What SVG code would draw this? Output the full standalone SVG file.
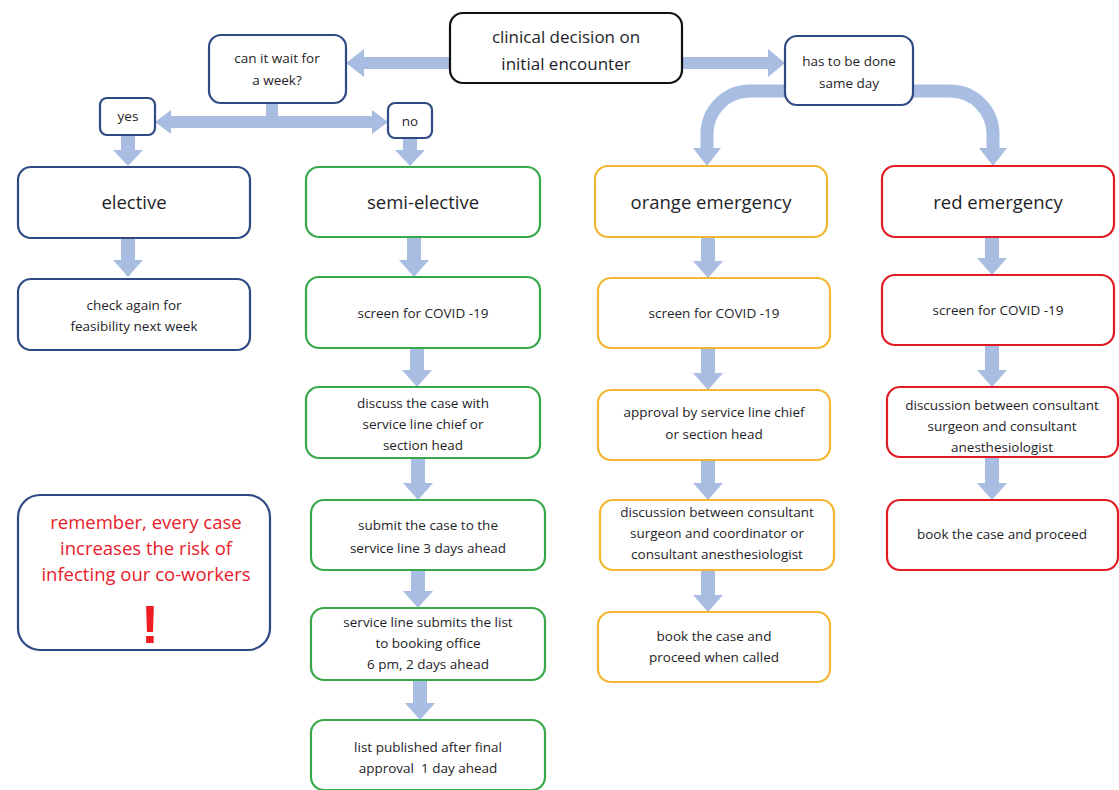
<svg xmlns="http://www.w3.org/2000/svg" width="1119" height="790" viewBox="0 0 1119 790">
<style>
.box{fill:#fff;stroke-width:2.2}
.navy{stroke:#2f4a84}
.green{stroke:#38a94a}
.orange{stroke:#f2b731}
.red{stroke:#e01b22}
.black{stroke:#111}
text{font-family:"Open Sans","Liberation Sans",sans-serif;fill:#1e1e28;text-anchor:middle}
.t{font-size:13.5px}
.b{font-size:18.5px}
.h{font-size:17px}
.s{font-size:13.5px}
.arr{fill:#a9bde2}
.carr{fill:none;stroke:#a9bde2;stroke-width:13}
.warn{fill:#e8202a;font-size:18.5px}
</style>
<rect width="1119" height="790" fill="#fff"/>
<g id="connectors">
  <polygon class="arr" points="450,57 364,57 364,49 346,63 364,77 364,69 450,69"/>
  <polygon class="arr" points="682,57 768,57 768,49 785,63 768,77 768,69 682,69"/>
  <rect class="arr" x="266" y="103" width="12" height="16"/>
  <polygon class="arr" points="155,122 171,110 171,116 372,116 372,110 388,122 372,134 372,128 171,128 171,134"/>
  <path class="carr" d="M785,91 H750 A43,43 0 0 0 707,134 V150"/>
  <polygon class="arr" points="693,148 721,148 707,166"/>
  <path class="carr" d="M913,91 H950 A43,43 0 0 1 993,134 V150"/>
  <polygon class="arr" points="979,148 1007,148 993,166"/>
  <polygon class="arr" points="121,136 135,136 135,150 143,150 128,166 113,150 121,150"/>
  <polygon class="arr" points="403,138 417,138 417,150 425,150 410,166 395,150 403,150"/>
  <polygon class="arr" points="121,238 135,238 135,260 143,260 128,277 113,260 121,260"/>
  <polygon class="arr" points="407,237 421,237 421,260 429,260 414,277 399,260 407,260"/>
  <polygon class="arr" points="410,348 424,348 424,370 432,370 417,387 402,370 410,370"/>
  <polygon class="arr" points="411,458 425,458 425,483 433,483 418,500 403,483 411,483"/>
  <polygon class="arr" points="411,570 425,570 425,591 433,591 418,608 403,591 411,591"/>
  <polygon class="arr" points="413,680 427,680 427,703 435,703 420,720 405,703 413,703"/>
  <polygon class="arr" points="701,237 715,237 715,261 723,261 708,278 693,261 701,261"/>
  <polygon class="arr" points="701,348 715,348 715,373 723,373 708,390 693,373 701,373"/>
  <polygon class="arr" points="701,460 715,460 715,483 723,483 708,500 693,483 701,483"/>
  <polygon class="arr" points="701,570 715,570 715,595 723,595 708,612 693,595 701,595"/>
  <polygon class="arr" points="985,237 999,237 999,258 1007,258 992,275 977,258 985,258"/>
  <polygon class="arr" points="985,345 999,345 999,370 1007,370 992,387 977,370 985,370"/>
  <polygon class="arr" points="985,457 999,457 999,483 1007,483 992,500 977,483 985,483"/>
</g>
<g id="clinical"><rect class="box black" x="450" y="13" width="232" height="70" rx="13"/><text class="h" x="566" y="43">clinical decision on</text><text class="h" x="566" y="70">initial encounter</text></g>
<g id="canwait"><rect class="box navy" x="209" y="35" width="137" height="68" rx="12"/><text class="s" x="277" y="63">can it wait for</text><text class="s" x="277" y="85">a week?</text></g>
<g id="hastobe"><rect class="box navy" x="785" y="36" width="128" height="69" rx="12"/><text class="s" x="849" y="66">has to be done</text><text class="s" x="849" y="88">same day</text></g>
<g id="yes"><rect class="box navy" x="100" y="98" width="55" height="37" rx="7"/><text class="s" x="128" y="121">yes</text></g>
<g id="no"><rect class="box navy" x="388" y="103" width="44" height="35" rx="7"/><text class="s" x="410" y="126">no</text></g>
<g id="elective"><rect class="box navy" x="18" y="167" width="232" height="71" rx="13"/><text class="b" x="134" y="209">elective</text></g>
<g id="checkagain"><rect class="box navy" x="18" y="279" width="232" height="71" rx="13"/><text class="t" x="134" y="310">check again for</text><text class="t" x="134" y="331">feasibility next week</text></g>
<g id="semielective"><rect class="box green" x="306" y="167" width="234" height="70" rx="13"/><text class="b" x="423" y="209">semi-elective</text></g>
<g id="semiscreen"><rect class="box green" x="306" y="277" width="234" height="71" rx="13"/><text class="t" x="423" y="318">screen for COVID -19</text></g>
<g id="discuss"><rect class="box green" x="306" y="387" width="234" height="71" rx="13"/><text class="t" x="423" y="408">discuss the case with</text><text class="t" x="423" y="429">service line chief or</text><text class="t" x="423" y="450">section head</text></g>
<g id="submit"><rect class="box green" x="311" y="500" width="234" height="70" rx="13"/><text class="t" x="428" y="530">submit the case to the</text><text class="t" x="428" y="553">service line 3 days ahead</text></g>
<g id="servicesubmits"><rect class="box green" x="311" y="608" width="234" height="72" rx="13"/><text class="t" x="428" y="627">service line submits the list</text><text class="t" x="428" y="648">to booking office</text><text class="t" x="428" y="669">6 pm, 2 days ahead</text></g>
<g id="published"><rect class="box green" x="311" y="720" width="234" height="70" rx="13"/><text class="t" x="428" y="752">list published after final</text><text class="t" x="428" y="773">approval&#160; 1 day ahead</text></g>
<g id="orange"><rect class="box orange" x="595" y="166" width="232" height="71" rx="13"/><text class="b" x="711" y="209">orange emergency</text></g>
<g id="orangescreen"><rect class="box orange" x="598" y="278" width="232" height="70" rx="13"/><text class="t" x="714" y="318">screen for COVID -19</text></g>
<g id="approval"><rect class="box orange" x="598" y="390" width="232" height="70" rx="13"/><text class="t" x="714" y="417">approval by service line chief</text><text class="t" x="714" y="439">or section head</text></g>
<g id="orangediscussion"><rect class="box orange" x="600" y="500" width="234" height="70" rx="13"/><text class="t" x="717" y="517">discussion between consultant</text><text class="t" x="717" y="538">surgeon and coordinator or</text><text class="t" x="717" y="559">consultant anesthesiologist</text></g>
<g id="orangebook"><rect class="box orange" x="598" y="612" width="232" height="70" rx="13"/><text class="t" x="714" y="641">book the case and</text><text class="t" x="714" y="662">proceed when called</text></g>
<g id="red"><rect class="box red" x="882" y="166" width="232" height="71" rx="13"/><text class="b" x="998" y="209">red emergency</text></g>
<g id="redscreen"><rect class="box red" x="882" y="275" width="232" height="70" rx="13"/><text class="t" x="998" y="315">screen for COVID -19</text></g>
<g id="reddiscussion"><rect class="box red" x="887" y="387" width="231" height="70" rx="13"/><text class="t" x="1002" y="410">discussion between consultant</text><text class="t" x="1002" y="431">surgeon and consultant</text><text class="t" x="1002" y="452">anesthesiologist</text></g>
<g id="redbook"><rect class="box red" x="887" y="500" width="231" height="70" rx="13"/><text class="t" x="1002" y="539">book the case and proceed</text></g>
<g id="remember"><rect class="box navy" x="18" y="495" width="252" height="155" rx="22"/><text class="warn" x="146" y="529">remember, every case</text><text class="warn" x="146" y="555">increases the risk of</text><text class="warn" x="146" y="581">infecting our co-workers</text><text x="150" y="643" style="fill:#f01c24;font-size:54px;font-weight:bold;font-family:'Liberation Sans',sans-serif">!</text></g>
</svg>
